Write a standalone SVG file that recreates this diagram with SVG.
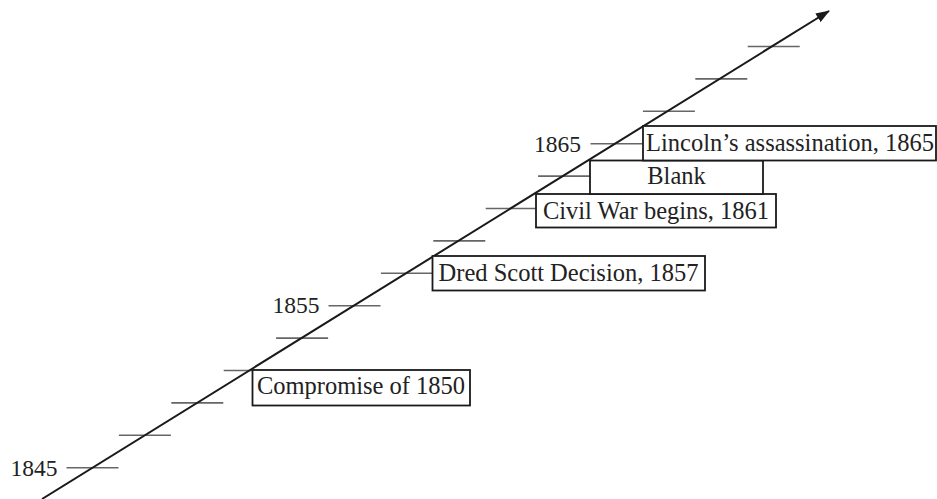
<svg xmlns="http://www.w3.org/2000/svg" width="937" height="499" viewBox="0 0 937 499">
<style>
.tick{stroke:#666;stroke-width:1.6;fill:none}
.axis{stroke:#1a1a1a;stroke-width:2;fill:none}
.box{fill:#fff;stroke:#1a1a1a;stroke-width:1.8}
.lbl{font-family:"Liberation Serif","Times New Roman",serif;font-size:24.5px;fill:#222;text-anchor:middle}
.yr{font-family:"Liberation Serif","Times New Roman",serif;font-size:23.5px;fill:#222;text-anchor:end}
</style>
<defs>
<marker id="arr" viewBox="0 0 14 10" refX="13" refY="5" markerWidth="14" markerHeight="10" markerUnits="userSpaceOnUse" orient="auto">
<path d="M0,0 L14,5 L0,10 Z" fill="#1a1a1a"/>
</marker>
</defs>
<g id="ticks">
<path class="tick" d="M66.5,467.7H118.5 M118.9,435.3H170.9 M171.3,402.9H223.3 M223.7,370.5H252.5 M276.1,338.1H328.1 M328.5,305.7H380.5 M380.9,273.3H432.5 M433.3,240.9H485.3 M485.7,208.5H536 M538.1,176.1H590 M590.5,143.7H643 M642.9,111.3H694.9 M695.3,78.9H747.3 M747.7,46.5H799.7"/>
</g>
<g id="connectors">
<path class="axis" d="M42,499 L829,11" marker-end="url(#arr)"/>
</g>
<g id="year1845"><text class="yr" x="57.5" y="476">1845</text></g>
<g id="year1855"><text class="yr" x="319.5" y="313">1855</text></g>
<g id="year1865"><text class="yr" x="581" y="152">1865</text></g>
<g id="compromise">
<rect class="box" x="252.5" y="370" width="217.5" height="35.5"/>
<text class="lbl" x="361" y="394">Compromise of 1850</text>
</g>
<g id="dred">
<rect class="box" x="432.5" y="256" width="272.5" height="34.5"/>
<text class="lbl" x="568.5" y="281">Dred Scott Decision, 1857</text>
</g>
<g id="civilwar">
<rect class="box" x="536" y="194" width="240" height="33.5"/>
<text class="lbl" x="656" y="218.5">Civil War begins, 1861</text>
</g>
<g id="blank">
<rect class="box" x="590" y="160.5" width="173" height="33.5"/>
<text class="lbl" x="676.5" y="184">Blank</text>
</g>
<g id="lincoln">
<rect class="box" x="643" y="126" width="293" height="34.5"/>
<text class="lbl" x="790" y="151">Lincoln’s assassination, 1865</text>
</g>
</svg>
